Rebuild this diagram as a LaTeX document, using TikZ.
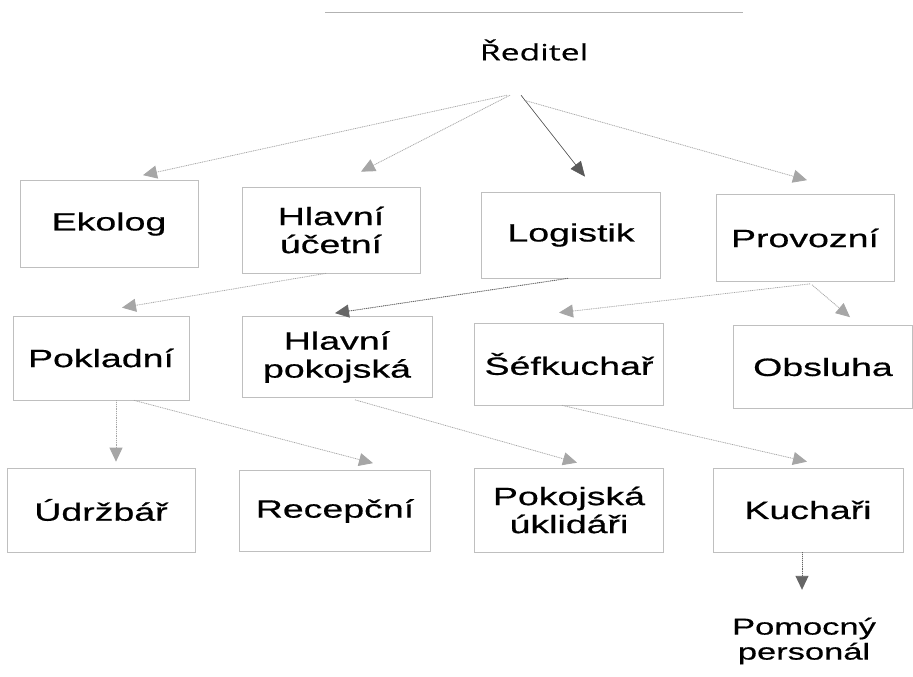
\documentclass[tikz,border=0pt]{standalone}
\usepackage{fontspec}
\setmainfont{Liberation Sans}[FakeStretch=1.5,FakeBold=0.6]
\newfontfamily\titlefont{Open Sans}[FakeStretch=1.5,FakeBold=0.4]
\usetikzlibrary{arrows.meta}
\tikzset{
  box/.style={draw=gray!50, line width=0.7pt, align=center, inner sep=0pt,
    font=\fontsize{25}{28}\selectfont, text=black},
  plain/.style={align=center, inner sep=0pt, font=\fontsize{23}{25}\selectfont, text=black},
  conn/.style={densely dotted, line width=0.8pt, draw=gray!70,
    -{Triangle[length=14pt,width=13pt]}, fill=gray!65},
  darkconn/.style={densely dotted, line width=0.9pt, draw=gray!80!black,
    -{Triangle[length=14pt,width=13pt]}, fill=black},
  solidconn/.style={line width=0.6pt, draw=gray!70!black,
    -{Triangle[length=15pt,width=13pt]}, fill=black}
}
\begin{document}
\begin{tikzpicture}[x=1pt,y=-1pt]
\useasboundingbox[fill=white] (0,0) rectangle (913,677);

% top node
\node[inner sep=0pt, minimum width=417pt, minimum height=74pt,
      font=\titlefont\fontsize{22.5}{25}\selectfont] (reditel) at (534,50) {Ředitel};
\draw[gray!60, line width=0.9pt] (reditel.north west) -- (reditel.north east);

% row 1
\node[box, minimum width=178pt, minimum height=87pt] (ekolog) at (109,224) {Ekolog};
\node[box, minimum width=178pt, minimum height=86pt] (ucetni) at (331,230) {Hlavní\\účetní};
\node[box, minimum width=179pt, minimum height=86pt] (logistik) at (571,235) {Logistik};
\node[box, minimum width=178pt, minimum height=87pt] (provozni) at (805,238) {Provozní};

% row 2
\node[box, minimum width=176pt, minimum height=84pt] (pokladni) at (101,358) {Pokladní};
\node[box, minimum width=190pt, minimum height=81pt] (pokojska) at (337,357) {Hlavní\\pokojská};
\node[box, minimum width=189pt, minimum height=82pt] (sefkuchar) at (569,364) {Šéfkuchař};
\node[box, minimum width=179pt, minimum height=83pt] (obsluha) at (823,367) {Obsluha};

% row 3
\node[box, minimum width=188pt, minimum height=84pt] (udrzbar) at (101,510) {Údržbář};
\node[box, minimum width=191pt, minimum height=81pt] (recepcni) at (335,511) {Recepční};
\node[box, minimum width=189pt, minimum height=84pt] (uklidari) at (569,510) {Pokojská\\úklidáři};
\node[box, minimum width=190pt, minimum height=84pt] (kuchari) at (808,510) {Kuchaři};

% row 4
\node[plain, minimum height=80pt] (pomocny) at (804,641) {Pomocný\\personál};

% connectors
\draw[conn] ([xshift=-27pt,yshift=-8pt]reditel.south) -- ([xshift=34pt,yshift=5pt]ekolog.north);
\draw[conn] ([xshift=-24pt,yshift=-8pt]reditel.south) -- ([xshift=30pt,yshift=15pt]ucetni.north);
\draw[solidconn] ([xshift=-13pt,yshift=-8pt]reditel.south) -- ([xshift=14pt,yshift=15pt]logistik.north);
\draw[conn] ([xshift=-10pt,yshift=-13pt]reditel.south) -- ([xshift=2pt,yshift=14pt]provozni.north);

\draw[conn] ([xshift=-5pt]ucetni.south) -- ([xshift=21pt,yshift=8pt]pokladni.north);
\draw[darkconn] ([xshift=-3pt]logistik.south) -- ([xshift=-2pt,yshift=3pt]pokojska.north);
\draw[conn] ([xshift=5pt,yshift=-2pt]provozni.south) -- ([xshift=-10pt,yshift=10pt]sefkuchar.north);
\draw[conn] ([xshift=7pt,yshift=-3pt]provozni.south) -- ([xshift=27pt,yshift=8pt]obsluha.north);

\draw[conn] ([xshift=15pt]pokladni.south) -- ([xshift=15pt,yshift=6pt]udrzbar.north);
\draw[conn] ([xshift=33pt]pokladni.south) -- ([xshift=38pt,yshift=7pt]recepcni.north);
\draw[conn] ([xshift=18pt,yshift=-2pt]pokojska.south) -- ([xshift=8pt,yshift=5pt]uklidari.north);
\draw[conn] ([xshift=-7pt]sefkuchar.south) -- ([xshift=-1pt,yshift=6pt]kuchari.north);

\draw[darkconn] ([xshift=-6pt]kuchari.south) -- ([xshift=-2pt,yshift=11pt]pomocny.north);
\end{tikzpicture}
\end{document}
